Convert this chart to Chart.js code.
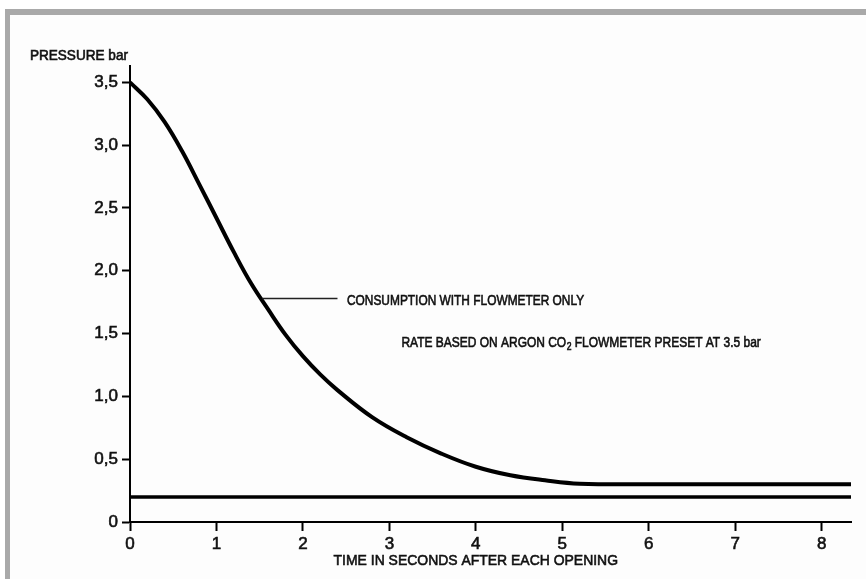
<!DOCTYPE html>
<html>
<head>
<meta charset="utf-8">
<script src="https://cdn.jsdelivr.net/npm/chart.js@4/dist/chart.umd.min.js"></script>
<style>
  html, body { margin: 0; padding: 0; background: #ffffff; width: 866px; height: 579px; overflow: hidden; }
  #frame { position: absolute; left: 5px; top: 9px; right: 0; bottom: 0;
           border-top: 6px solid #a9a9a9; border-left: 5px solid #a9a9a9; background: #fdfdfd; }
  #wrap { position: absolute; left: 0; top: 0; width: 866px; height: 579px; }
</style>
</head>
<body>
<div id="frame"></div>
<div id="wrap"><canvas id="c" width="866" height="579"></canvas></div>
<script>
// ---- data ----
const times = [0, 0.2, 0.4, 0.6, 0.8, 1.0, 1.2, 1.4, 1.6, 1.8, 2.0, 2.2, 2.4, 2.8, 3.2, 3.6, 4.0, 4.4, 4.8, 5.2, 6, 7, 8, 8.34];
const pressureFlowmeter = [3.50, 3.365, 3.185, 2.955, 2.69, 2.42, 2.15, 1.90, 1.69, 1.49, 1.32, 1.175, 1.05, 0.835, 0.675, 0.545, 0.44, 0.372, 0.332, 0.305, 0.30, 0.30, 0.30, 0.30];
const baselineTimes = [0, 8.34];
const baselineValues = [0.2, 0.2];
const xTickValues = [0, 1, 2, 3, 4, 5, 6, 7, 8];
const xTickLabels = ['0', '1', '2', '3', '4', '5', '6', '7', '8'];
const yTickValues = [0, 0.5, 1, 1.5, 2, 2.5, 3, 3.5];
const yTickLabels = ['0', '0,5', '1,0', '1,5', '2,0', '2,5', '3,0', '3,5'];
const yAxisTitle = 'PRESSURE bar';
const xAxisTitle = 'TIME IN SECONDS AFTER EACH OPENING';
const curveLabel = 'CONSUMPTION WITH FLOWMETER ONLY';
const noteParts = ['RATE BASED ON ARGON CO', '2', ' FLOWMETER PRESET AT 3.5 bar'];

const FONT = '"Liberation Sans", Arial, Helvetica, sans-serif';
const INK = '#111111';

function scaledText(ctx, text, x, y, size, sx, align) {
  ctx.save();
  ctx.font = 'normal ' + size + 'px ' + FONT;
  ctx.textBaseline = 'middle';
  const w = ctx.measureText(text).width * sx;
  let left = x;
  if (align === 'right') left = x - w;
  else if (align === 'center') left = x - w / 2;
  ctx.translate(left, y);
  ctx.scale(sx, 1);
  ctx.textAlign = 'left';
  ctx.fillStyle = INK;
  ctx.strokeStyle = INK;
  ctx.lineWidth = 0.6;
  ctx.fillText(text, 0, 0);
  ctx.strokeText(text, 0, 0);
  ctx.restore();
  return w;
}

const textPlugin = {
  id: 'texts',
  afterDraw(chart) {
    const ctx = chart.ctx;
    const xs = chart.scales.x, ys = chart.scales.y;
    const ca = chart.chartArea;
    // y axis title
    scaledText(ctx, yAxisTitle, ca.left - 2, ca.top - 10, 14, 0.97, 'right');
    // x axis title
    scaledText(ctx, xAxisTitle, xs.getPixelForValue(4.0), ca.bottom + 39, 15, 0.93, 'center');
    // leader line for curve label
    ctx.save();
    ctx.strokeStyle = '#222';
    ctx.lineWidth = 1.5;
    ctx.beginPath();
    ctx.moveTo(xs.getPixelForValue(1.53), ys.getPixelForValue(1.78));
    ctx.lineTo(xs.getPixelForValue(2.40), ys.getPixelForValue(1.78));
    ctx.stroke();
    ctx.restore();
    scaledText(ctx, curveLabel, xs.getPixelForValue(2.51), ys.getPixelForValue(1.76), 14, 0.85, 'left');
    // rate note with subscript
    let x = xs.getPixelForValue(3.14);
    const y = ys.getPixelForValue(1.42);
    x += scaledText(ctx, noteParts[0], x, y, 14, 0.855, 'left');
    x += scaledText(ctx, noteParts[1], x + 0.5, y + 4, 10, 0.855, 'left') + 0.5;
    scaledText(ctx, noteParts[2], x, y, 14, 0.855, 'left');
  }
};

new Chart(document.getElementById('c'), {
  type: 'line',
  data: {
    datasets: [
      {
        label: 'Consumption with flowmeter only',
        data: times.map((t, i) => ({ x: t, y: pressureFlowmeter[i] })),
        borderColor: '#000',
        borderWidth: 4,
        pointRadius: 0,
        tension: 0.4,
        fill: false
      },
      {
        label: 'Baseline',
        data: baselineTimes.map((t, i) => ({ x: t, y: baselineValues[i] })),
        borderColor: '#000',
        borderWidth: 3.5,
        pointRadius: 0,
        fill: false
      }
    ]
  },
  options: {
    responsive: false,
    animation: false,
    devicePixelRatio: 1,
    layout: { padding: { left: 0, right: 15, top: 66, bottom: 0 } },
    plugins: { legend: { display: false }, tooltip: { enabled: false } },
    scales: {
      x: {
        type: 'linear',
        min: 0,
        max: 8.34,
        afterFit(s) { s.height = 57; },
        afterBuildTicks(s) { s.ticks = xTickValues.map(v => ({ value: v })); },
        grid: { drawOnChartArea: false, drawTicks: true, tickLength: 9, tickWidth: 2, tickColor: '#000' },
        border: { display: true, color: '#000', width: 2 },
        ticks: {
          color: INK,
          padding: 3,
          maxRotation: 0,
          textStrokeColor: INK,
          textStrokeWidth: 0.6,
          font: { family: FONT, size: 17 },
          callback: (v) => { const i = xTickValues.indexOf(v); return i >= 0 ? xTickLabels[i] : ''; }
        }
      },
      y: {
        type: 'linear',
        min: 0,
        max: 3.63,
        afterFit(s) { s.width = 130; },
        afterBuildTicks(s) { s.ticks = yTickValues.map(v => ({ value: v })); },
        grid: { drawOnChartArea: false, drawTicks: true, tickLength: 8, tickWidth: 2, tickColor: '#000' },
        border: { display: true, color: '#000', width: 2 },
        ticks: {
          color: INK,
          padding: 4,
          textStrokeColor: INK,
          textStrokeWidth: 0.6,
          font: { family: FONT, size: 17 },
          callback: (v) => { const i = yTickValues.indexOf(v); return i >= 0 ? yTickLabels[i] : ''; }
        }
      }
    }
  },
  plugins: [textPlugin]
});
</script>
</body>
</html>
